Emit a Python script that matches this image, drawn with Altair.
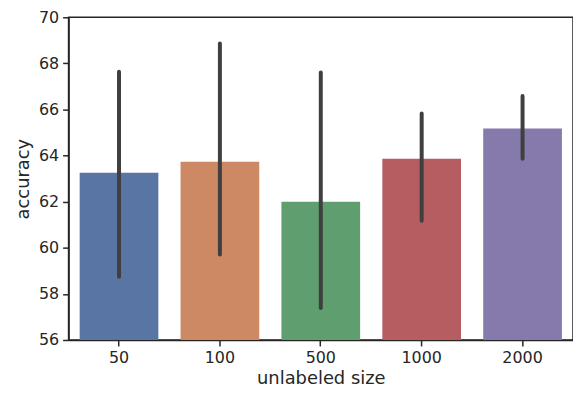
import altair as alt
import pandas as pd

sizes = ["50", "100", "500", "1000", "2000"]
accuracy = [63.26, 63.73, 62.0, 63.86, 65.17]
err_low = [58.74, 59.71, 57.39, 61.17, 63.86]
err_high = [67.64, 68.86, 67.6, 65.83, 66.59]
colors = ["#5975a4", "#cc8963", "#5f9e6e", "#b55d60", "#857aab"]

df = pd.DataFrame({"size": sizes, "acc": accuracy, "lo": err_low, "hi": err_high})

ax = dict(grid=False, domainColor="#262626", domainWidth=1.5, tickColor="#262626", tickWidth=1.5,
          tickSize=6, labelFont="DejaVu Sans", labelFontSize=16, labelColor="#262626",
          titleFont="DejaVu Sans", titleFontSize=18, titleFontWeight="normal", titleColor="#262626",
          labelPadding=4)

x = alt.X("size:N", sort=sizes, title="unlabeled size",
          scale=alt.Scale(paddingInner=0.22, paddingOuter=0.11),
          axis=alt.Axis(labelAngle=0, titlePadding=4, **ax))

bars = alt.Chart(df).mark_bar(clip=True).encode(
    x=x,
    y=alt.Y("acc:Q", title="accuracy", scale=alt.Scale(domain=[56, 70], zero=False),
            axis=alt.Axis(values=list(range(56, 71, 2)), titlePadding=6, **ax)),
    y2=alt.datum(56),
    color=alt.Color("size:N", sort=sizes, scale=alt.Scale(domain=sizes, range=colors), legend=None),
)

errs = alt.Chart(df).mark_rule(color="#3f3f3f", strokeWidth=4, strokeCap="round").encode(
    x=x, y="lo:Q", y2="hi:Q"
)

chart = alt.layer(bars, errs).properties(
    width=508, height=325,
    autosize=alt.AutoSizeParams(type="none"),
    padding={"left": 61, "top": 8, "right": 0, "bottom": 46},
).configure_view(stroke="#262626", strokeWidth=1.5)

chart.save("out.html", embed_options={"renderer": "svg", "actions": False})
